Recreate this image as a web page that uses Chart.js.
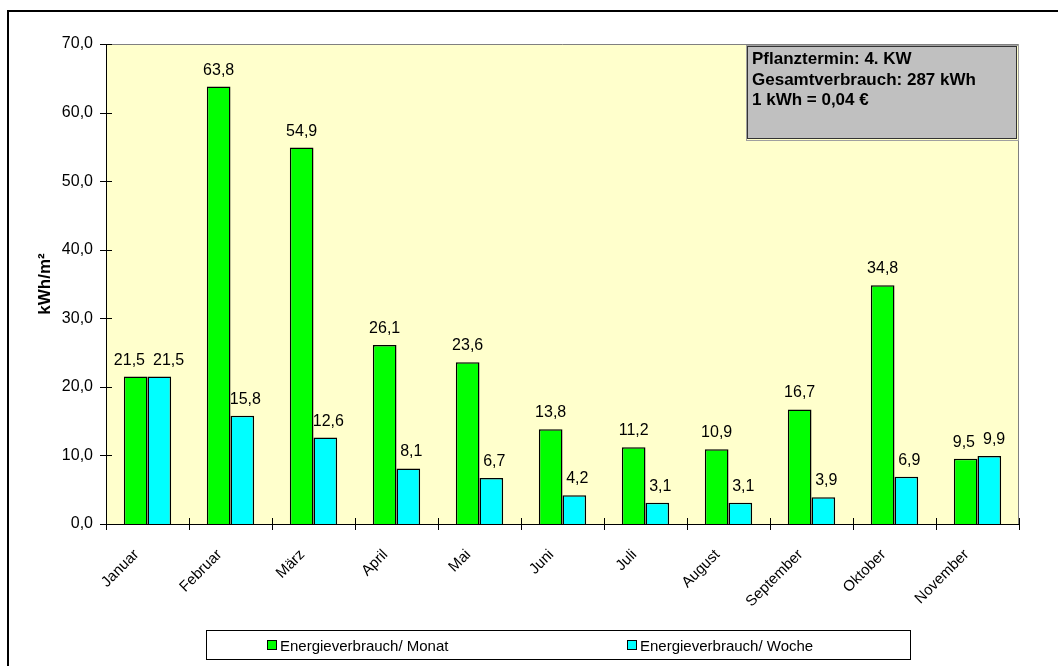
<!DOCTYPE html>
<html>
<head>
<meta charset="utf-8">
<script src="https://cdn.jsdelivr.net/npm/chart.js@4.4.1/dist/chart.umd.min.js"></script>
<style>
  html, body { margin: 0; padding: 0; background: #fff; }
  canvas { display: block; }
</style>
</head>
<body>
<canvas id="c" width="1058" height="666"></canvas>
<script>
const categories = ['Januar', 'Februar', 'März', 'April', 'Mai', 'Juni', 'Juli', 'August', 'September', 'Oktober', 'November'];
const monatValues = [21.5, 63.8, 54.9, 26.1, 23.6, 13.8, 11.2, 10.9, 16.7, 34.8, 9.5];
const wocheValues = [21.5, 15.8, 12.6, 8.1, 6.7, 4.2, 3.1, 3.1, 3.9, 6.9, 9.9];
const seriesNames = ['Energieverbrauch/ Monat', 'Energieverbrauch/ Woche'];
const yTicks = [0, 10, 20, 30, 40, 50, 60, 70];
const yTitle = 'kWh/m²';
const infoLines = ['Pflanztermin: 4. KW', 'Gesamtverbrauch: 287 kWh', '1 kWh = 0,04 €'];

const FONT = 'Liberation Sans, Arial, Helvetica, sans-serif';
const fmt = v => v.toFixed(1).replace('.', ',');

const decor = {
  id: 'decor',
  beforeDraw(chart) {
    const ctx = chart.ctx, a = chart.chartArea;
    ctx.save();
    ctx.fillStyle = '#fff';
    ctx.fillRect(0, 0, chart.width, chart.height);
    ctx.fillStyle = '#ffffcc';
    ctx.fillRect(a.left, a.top, a.right - a.left, a.bottom - a.top);
    ctx.strokeStyle = '#808080';
    ctx.lineWidth = 1;
    ctx.beginPath();
    ctx.moveTo(a.left, a.top + 0.5);
    ctx.lineTo(a.right - 0.5, a.top + 0.5);
    ctx.lineTo(a.right - 0.5, a.bottom);
    ctx.stroke();
    ctx.restore();
  },
  afterDraw(chart) {
    const ctx = chart.ctx, a = chart.chartArea;
    const ys = chart.scales.y;
    ctx.save();
    // tick marks crossing axes
    ctx.strokeStyle = '#000';
    ctx.lineWidth = 1;
    ctx.beginPath();
    yTicks.forEach(t => {
      const y = Math.round(ys.getPixelForValue(t)) + 0.5;
      ctx.moveTo(a.left - 6, y);
      ctx.lineTo(a.left + 6, y);
    });
    const n = categories.length;
    const w = (a.right - a.left) / n;
    for (let i = 0; i <= n; i++) {
      const x = Math.round(a.left + i * w) + 0.5;
      ctx.moveTo(x, a.bottom - 6);
      ctx.lineTo(x, a.bottom + 6);
    }
    ctx.stroke();

    // data labels (pushed apart when the two labels of a month would collide)
    ctx.fillStyle = '#000';
    ctx.font = '16px ' + FONT;
    ctx.textAlign = 'center';
    ctx.textBaseline = 'alphabetic';
    const m0 = chart.getDatasetMeta(0), m1 = chart.getDatasetMeta(1);
    const d0 = chart.data.datasets[0].data, d1 = chart.data.datasets[1].data;
    for (let i = 0; i < n; i++) {
      const b0 = m0.data[i], b1 = m1.data[i];
      const t0 = fmt(d0[i]), t1 = fmt(d1[i]);
      let x0 = b0.x, x1 = b1.x + 3;
      const w0 = ctx.measureText(t0).width, w1 = ctx.measureText(t1).width;
      const y0 = b0.y - 12, y1 = b1.y - 12;
      if (Math.abs(y0 - y1) < 16) {
        const overlap = (x0 + w0 / 2 + 8) - (x1 - w1 / 2);
        if (overlap > 0) { x0 -= overlap / 2; x1 += overlap / 2; }
      }
      ctx.fillText(t0, x0, y0);
      ctx.fillText(t1, x1, y1);
    }

    // info box
    const bx = 747, by = 46, bw = 270, bh = 93;
    ctx.strokeStyle = '#a0a0a0';
    ctx.lineWidth = 1;
    ctx.strokeRect(bx - 0.5, by - 0.5, bw + 2, bh + 2);
    ctx.fillStyle = '#c0c0c0';
    ctx.fillRect(bx, by, bw, bh);
    ctx.strokeStyle = '#333';
    ctx.strokeRect(bx + 0.5, by + 0.5, bw - 1, bh - 1);
    ctx.fillStyle = '#000';
    ctx.font = 'bold 17px ' + FONT;
    ctx.textAlign = 'left';
    ctx.textBaseline = 'alphabetic';
    infoLines.forEach((l, i) => ctx.fillText(l, bx + 5, by + 18 + i * 20.5));

    // legend
    const lx = 206, ly = 630, lw = 704, lh = 29;
    ctx.strokeStyle = '#000';
    ctx.lineWidth = 1;
    ctx.strokeRect(lx + 0.5, ly + 0.5, lw, lh);
    const items = [{x: 267, c: '#00ff00'}, {x: 627, c: '#00ffff'}];
    ctx.font = '15px ' + FONT;
    ctx.textBaseline = 'alphabetic';
    items.forEach((it, i) => {
      ctx.fillStyle = it.c;
      ctx.fillRect(it.x, 640, 10, 10);
      ctx.strokeStyle = '#000';
      ctx.strokeRect(it.x + 0.5, 640.5, 9, 9);
      ctx.fillStyle = '#000';
      ctx.fillText(seriesNames[i], it.x + 13, 650.5);
    });

    // outer frame
    ctx.strokeStyle = '#000';
    ctx.lineWidth = 2;
    ctx.strokeRect(8, 11, 1070, 700);
    ctx.restore();
  }
};

new Chart(document.getElementById('c'), {
  type: 'bar',
  data: {
    labels: categories,
    datasets: [
      { label: seriesNames[0], data: monatValues, backgroundColor: '#00ff00', borderColor: '#000', borderWidth: 1.5,
        categoryPercentage: 0.57, barPercentage: 1.0 },
      { label: seriesNames[1], data: wocheValues, backgroundColor: '#00ffff', borderColor: '#000', borderWidth: 1.5,
        categoryPercentage: 0.57, barPercentage: 1.0 }
    ]
  },
  options: {
    responsive: false,
    animation: false,
    devicePixelRatio: 1,
    layout: { padding: { left: 0, top: 44, right: 39, bottom: 0 } },
    plugins: { legend: { display: false }, tooltip: { enabled: false } },
    scales: {
      x: {
        grid: { display: false, drawTicks: false },
        border: { color: '#000', width: 1 },
        ticks: { color: '#000', font: { family: FONT, size: 15 }, maxRotation: 45, minRotation: 45, padding: 22, labelOffset: -11, autoSkip: false },
        afterFit(s) { s.height = 142; }
      },
      y: {
        min: 0, max: 70,
        grid: { display: false, drawTicks: false },
        border: { color: '#000', width: 1 },
        afterBuildTicks(s) { s.ticks = yTicks.map(v => ({ value: v })); },
        ticks: { color: '#000', font: { family: FONT, size: 16 }, padding: 13, callback: v => fmt(v) },
        title: { display: true, text: yTitle, color: '#000', font: { family: FONT, size: 17, weight: 'bold' }, padding: { top: 35, bottom: 0 } },
        afterFit(s) { s.width = 106; }
      }
    }
  },
  plugins: [decor]
});
</script>
</body>
</html>
